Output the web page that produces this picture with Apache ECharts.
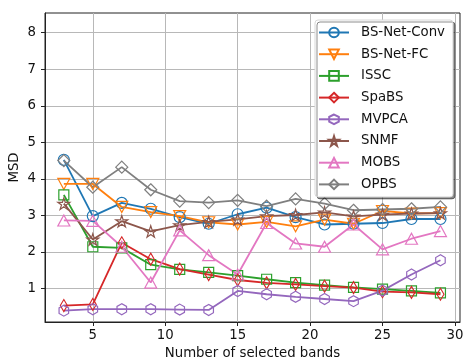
<!DOCTYPE html>
<html><head><meta charset="utf-8">
<script src="https://cdn.jsdelivr.net/npm/echarts@6/dist/echarts.min.js"></script>
<style>html,body{margin:0;padding:0;background:#fff}#c{width:466px;height:360px}</style>
</head><body><div id="c"></div>
<script>
const bands = [3,5,7,9,11,13,15,17,19,21,23,25,27,29];
const bsNetConv = [4.52,2.98,3.34,3.18,2.95,2.77,3.03,3.21,2.95,2.75,2.77,2.79,2.90,2.90];
const bsNetFC   = [3.86,3.86,3.23,3.09,2.98,2.81,2.75,2.82,2.70,2.88,2.77,3.12,3.05,3.06];
const issc      = [3.56,2.14,2.11,1.65,1.52,1.44,1.35,1.25,1.16,1.09,1.03,0.98,0.93,0.88];
const spaBS     = [0.53,0.56,2.25,1.80,1.53,1.38,1.23,1.15,1.11,1.06,1.02,0.91,0.89,0.84];
const mvpca     = [0.39,0.43,0.43,0.43,0.42,0.41,0.93,0.84,0.77,0.71,0.65,0.94,1.38,1.77];
const snmf      = [3.32,2.34,2.84,2.56,2.73,2.82,2.89,2.98,3.01,3.08,2.97,3.02,3.05,3.06];
const mobs      = [2.86,2.85,2.14,1.16,2.59,1.91,1.38,2.79,2.23,2.14,2.75,2.07,2.36,2.57];
const opbs      = [4.50,3.77,4.32,3.70,3.39,3.35,3.41,3.25,3.45,3.32,3.14,3.16,3.18,3.23];
const xTicks = [5,10,15,20,25,30];
const yTicks = [1,2,3,4,5,6,7,8];

function starPath(){
  let p=[];
  for(let i=0;i<10;i++){
    const r = i%2===0?1:0.382;
    const a = Math.PI/2 + i*Math.PI/5;
    p.push((r*Math.cos(a)).toFixed(3)+','+(-r*Math.sin(a)).toFixed(3));
  }
  return 'path://M'+p.join(' L')+' Z';
}
function hexPath(){
  let p=[];
  for(let i=0;i<6;i++){
    const a = Math.PI/2 + i*Math.PI/3;
    p.push((Math.cos(a)).toFixed(3)+','+(-Math.sin(a)).toFixed(3));
  }
  return 'path://M'+p.join(' L')+' Z';
}
const FONT = 'DejaVu Sans';
const FS = 13.3;
const defs = [
  {name:'BS-Net-Conv', data:bsNetConv, color:'#1f77b4', symbol:'circle', size:11},
  {name:'BS-Net-FC', data:bsNetFC, color:'#ff7f0e', symbol:'triangle', size:[12,11], rotate:180},
  {name:'ISSC', data:issc, color:'#2ca02c', symbol:'rect', size:10},
  {name:'SpaBS', data:spaBS, color:'#d62728', symbol:'diamond', size:[7,12]},
  {name:'MVPCA', data:mvpca, color:'#9467bd', symbol:hexPath(), size:11},
  {name:'SNMF', data:snmf, color:'#8c564b', symbol:starPath(), size:12},
  {name:'MOBS', data:mobs, color:'#e377c2', symbol:'triangle', size:[12,11]},
  {name:'OPBS', data:opbs, color:'#7f7f7f', symbol:'diamond', size:[12,12]}
];
const series = defs.map(d=>({
  type:'line', name:d.name,
  data: bands.map((b,i)=>[b,d.data[i]]),
  symbol:d.symbol, symbolSize:d.size, symbolRotate:d.rotate||0, symbolKeepAspect:true,
  showAllSymbol:true,
  lineStyle:{color:d.color,width:1.8},
  itemStyle:{color:'rgba(255,255,255,0)',borderColor:d.color,borderWidth:1.2},
  color:d.color,
  emphasis:{disabled:true},
  animation:false
}));
const chart = echarts.init(document.getElementById('c'),null,{renderer:'canvas'});
chart.setOption({
  animation:false,
  backgroundColor:'#fff',
  grid:{left:45,right:6,top:13,bottom:38,containLabel:false,outerBoundsMode:'none',show:true,borderColor:'#222',borderWidth:1,backgroundColor:'transparent'},
  xAxis:{type:'value',min:1.7,max:30.35,
    name:'Number of selected bands',nameLocation:'middle',nameGap:25,nameMoveOverlap:false,
    nameTextStyle:{fontFamily:FONT,fontSize:FS,color:'#111'},
    axisLine:{show:true,lineStyle:{color:'#222',width:1}},
    axisTick:{show:true,length:4,inside:false,customValues:xTicks,lineStyle:{color:'#222'}},
    axisLabel:{customValues:xTicks,margin:7,fontFamily:FONT,fontSize:FS,color:'#111'},
    splitLine:{show:true,lineStyle:{color:'#b8b8b8',width:1}}
  },
  yAxis:{type:'value',min:0.08,max:8.54,
    name:'MSD',nameLocation:'middle',nameGap:30,nameRotate:90,nameMoveOverlap:false,
    nameTextStyle:{fontFamily:FONT,fontSize:FS,color:'#111',verticalAlign:'middle',align:'center'},
    axisLine:{show:true,lineStyle:{color:'#222',width:1}},
    axisTick:{show:true,length:4,inside:false,customValues:yTicks,lineStyle:{color:'#222'}},
    axisLabel:{customValues:yTicks,margin:9,fontFamily:FONT,fontSize:FS,color:'#111'},
    splitLine:{show:true,lineStyle:{color:'#b8b8b8',width:1}}
  },
  legend:{
    orient:'vertical',left:315,top:20,
    itemWidth:30,itemHeight:12,itemGap:8.7,
    padding:[6,8,6,3],
    backgroundColor:'#fff',borderColor:'#d8d8d8',borderWidth:1,borderRadius:3,
    shadowColor:'rgba(0,0,0,0.45)',shadowBlur:0,shadowOffsetX:2,shadowOffsetY:2,
    textStyle:{fontFamily:FONT,fontSize:FS,color:'#111',padding:[0,0,0,7]},
    data:defs.map(d=>d.name)
  },
  series:series
});
</script></body></html>
